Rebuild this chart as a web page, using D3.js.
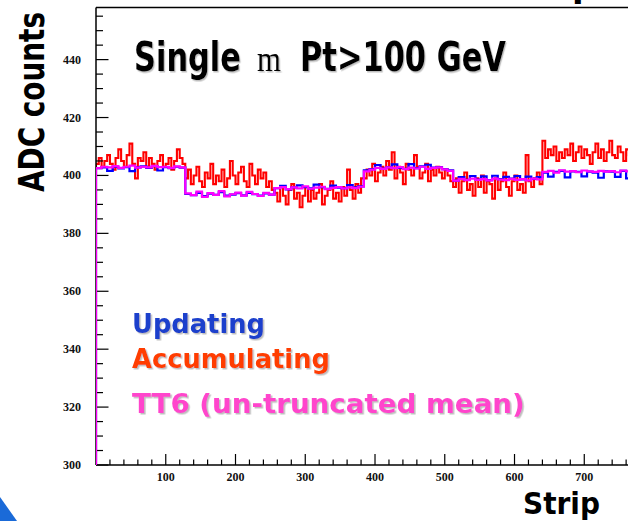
<!DOCTYPE html>
<html lang="en">
<head>
    <meta charset="UTF-8">
    <title>ADC counts vs strip</title>
    <script src="https://d3js.org/d3.v7.min.js"></script>
    <style>
        body {
            margin: 0;
            background: #fff;
        }
        svg text.tick {
            font-family: "Liberation Serif", serif;
            font-weight: bold;
            font-size: 12px;
            fill: #111;
        }
        svg text.big {
            font-family: "DejaVu Sans", sans-serif;
            font-weight: bold;
        }
    </style>
</head>
<body>
    <div id="chart"></div>

    <script>
        // strips 0..767, read in chunks of 128 (one chip each)
        const stripRange = [0, 768];
        const adcRange = [300, 458];
        const xTickValues = [100, 200, 300, 400, 500, 600, 700];
        const yTickValues = [300, 320, 340, 360, 380, 400, 420, 440];

        // Accumulating pedestals, one value per 4 strips
        const accumulating = [
            404,406,403,405,407,404,402,406,409,405,403,407,411,404,399,406,405,408,403,406,404,402,405,407,403,404,406,402,405,409,406,404,
            399,402,397,400,403,398,396,401,399,404,397,400,398,402,396,399,405,400,397,401,403,398,396,404,400,397,402,399,401,396,398,395,
            394,391,396,393,390,395,397,392,394,389,393,396,391,395,392,394,397,390,393,395,398,392,394,391,396,393,402,395,392,397,394,399,
            399,402,400,404,398,401,403,400,405,402,408,399,403,401,397,404,402,400,407,403,399,401,404,398,402,400,403,401,399,402,400,398,
            396,399,394,398,401,395,397,393,399,396,400,394,398,397,392,399,395,398,401,396,393,398,400,395,397,394,407,398,396,399,401,397,
            412,406,409,407,410,405,408,406,409,407,411,405,408,410,406,409,407,404,408,411,406,409,405,408,412,407,406,410,408,405,409,407
        ];

        // Updating pedestals, one value per 8 strips
        const updating = [
            402.5,402.8,401.6,403.0,402.4,402.9,401.5,402.8,403.1,402.6,403.2,401.7,402.9,402.5,403.0,402.7,
            393.6,393.2,394.0,392.9,393.7,393.3,394.2,393.0,393.4,393.9,393.1,394.0,393.5,393.0,393.8,393.4,
            395.6,396.4,395.2,395.9,396.6,396.0,395.5,396.8,396.0,395.4,396.5,395.8,395.6,396.7,395.9,396.2,
            401.8,402.2,403.6,402.4,402.9,403.8,402.6,402.3,403.9,402.5,403.1,403.7,402.7,402.9,402.2,401.8,
            398.2,399.4,398.5,399.8,398.6,399.7,398.4,399.9,398.7,399.5,398.9,399.8,398.6,399.6,398.8,399.4,
            401.0,399.6,401.2,401.6,399.3,401.4,401.2,399.7,401.3,401.0,399.2,401.4,401.3,399.5,401.6,399.0
        ];

        // TT6 un-truncated mean, one value per 8 strips
        const tt6 = [
            402.5,403.0,402.8,403.2,402.6,403.0,403.4,402.7,403.0,402.8,403.3,402.9,403.0,402.6,403.1,402.8,
            393.8,393.2,394.4,392.6,393.9,393.3,394.6,392.8,393.5,394.1,393.0,394.3,393.6,392.9,394.0,393.4,
            395.6,396.0,395.3,395.9,395.5,396.2,395.4,395.8,396.1,395.3,395.7,396.0,395.5,395.9,395.6,396.1,
            401.4,402.0,402.6,402.3,402.8,402.5,402.9,402.2,402.7,402.4,403.0,402.3,402.6,402.8,402.1,401.6,
            398.2,398.8,398.4,398.9,398.5,398.7,398.3,398.9,398.6,398.4,398.8,398.5,398.7,398.3,398.9,398.6,
            401.2,401.6,401.0,401.8,401.3,401.5,401.1,401.7,401.4,401.2,401.6,401.3,401.5,401.1,401.7,401.4
        ];

        const config = {
            width: 628,
            height: 521,
            left: 96,
            right: 631.7,
            top: 7.5,
            bottom: 465
        };

        const svg = d3.select('#chart')
            .append('svg')
            .attr('width', config.width)
            .attr('height', config.height);

        const defs = svg.append('defs');
        defs.append('clipPath').attr('id', 'plot')
            .append('rect')
            .attr('x', config.left)
            .attr('y', config.top)
            .attr('width', config.right - config.left)
            .attr('height', config.bottom - config.top);
        defs.append('filter').attr('id', 'shadow')
            .attr('x', '-5%').attr('y', '-20%').attr('width', '110%').attr('height', '140%')
            .append('feDropShadow')
            .attr('dx', 1.5).attr('dy', 1.5).attr('stdDeviation', 0.7)
            .attr('flood-color', '#888').attr('flood-opacity', 0.55);

        const x = d3.scaleLinear().domain(stripRange).range([config.left, config.right]);
        const y = d3.scaleLinear().domain(adcRange).range([config.bottom, config.top]);

        // squeeze a text sideways so it is exactly `width` wide (the slide font was narrow)
        function squeeze(sel, tx, ty, width, rotate) {
            const natural = sel.node().getComputedTextLength();
            const sx = width / natural;
            sel.attr('transform', `translate(${tx},${ty})` + (rotate ? ` rotate(${rotate})` : '') + ` scale(${sx},1)`);
        }

        // histogram outline, starting from the bottom of the frame like ROOT does
        function histPath(values) {
            const w = (stripRange[1] - stripRange[0]) / values.length;
            const pts = [[stripRange[0], adcRange[0]]];
            values.forEach((v, i) => pts.push([stripRange[0] + i * w, v]));
            pts.push([stripRange[1], values[values.length - 1]]);
            return d3.line()
                .x(d => x(d[0]))
                .y(d => y(d[1]))
                .curve(d3.curveStepAfter)(pts);
        }

        const plot = svg.append('g').attr('clip-path', 'url(#plot)');

        plot.append('path')
            .attr('d', histPath(accumulating))
            .attr('fill', 'none')
            .attr('stroke', '#ff0000')
            .attr('stroke-width', 2.1);

        plot.append('path')
            .attr('d', histPath(updating))
            .attr('fill', 'none')
            .attr('stroke', '#0000ff')
            .attr('stroke-width', 2.2);

        // frame: top edge
        svg.append('line')
            .attr('x1', config.left).attr('x2', config.width)
            .attr('y1', config.top).attr('y2', config.top)
            .attr('stroke', '#000').attr('stroke-width', 1.5);

        // x axis, ticks pointing up into the frame
        const xMinor = d3.range(20, 768, 20);
        const xAxis = svg.append('g');
        xAxis.append('line')
            .attr('x1', config.left).attr('x2', config.width)
            .attr('y1', config.bottom).attr('y2', config.bottom)
            .attr('stroke', '#000').attr('stroke-width', 1.5);
        xAxis.selectAll('.xt')
            .data(xMinor)
            .join('line')
            .attr('x1', d => x(d)).attr('x2', d => x(d))
            .attr('y1', config.bottom)
            .attr('y2', d => config.bottom - (d % 100 === 0 ? 11 : 5.5))
            .attr('stroke', '#000').attr('stroke-width', 1.2);
        xAxis.selectAll('text')
            .data(xTickValues)
            .join('text')
            .attr('class', 'tick')
            .attr('x', d => x(d))
            .attr('y', config.bottom + 16)
            .attr('text-anchor', 'middle')
            .text(d => d);

        // y axis, ticks pointing right into the frame
        const yMinor = d3.range(300, 458, 5);
        const yAxis = svg.append('g');
        yAxis.append('line')
            .attr('x1', config.left).attr('x2', config.left)
            .attr('y1', config.top).attr('y2', config.bottom)
            .attr('stroke', '#000').attr('stroke-width', 1.5);
        yAxis.selectAll('.yt')
            .data(yMinor)
            .join('line')
            .attr('x1', config.left)
            .attr('x2', d => config.left + (d % 20 === 0 ? 12.5 : 7))
            .attr('y1', d => y(d)).attr('y2', d => y(d))
            .attr('stroke', '#000').attr('stroke-width', 1.2);
        yAxis.selectAll('text')
            .data(yTickValues)
            .join('text')
            .attr('class', 'tick')
            .attr('x', config.left - 15)
            .attr('y', d => y(d) + 4)
            .attr('text-anchor', 'end')
            .text(d => d);

        // TT6 on top, its left edge runs down the axis
        svg.append('g').attr('clip-path', 'url(#plot)')
            .append('path')
            .attr('d', histPath(tt6))
            .attr('fill', 'none')
            .attr('stroke', '#ff00ff')
            .attr('stroke-width', 2.2);

        // axis titles
        const yTitle = svg.append('text')
            .attr('class', 'big')
            .attr('text-anchor', 'middle')
            .attr('font-size', 36)
            .attr('fill', '#000')
            .text('ADC counts');
        squeeze(yTitle, 44, 102, 180, -90);

        const xTitle = svg.append('text')
            .attr('class', 'big')
            .attr('font-size', 30)
            .attr('fill', '#000')
            .text('Strip');
        squeeze(xTitle, 523, 514, 77);

        // bit of the slide title that hangs into the picture
        svg.append('text')
            .attr('class', 'big')
            .attr('x', 572).attr('y', -3)
            .attr('font-size', 34)
            .attr('fill', '#000')
            .text('p');

        // in-plot title, three pieces (the mu fell back to a serif "m")
        const titleParts = [
            { text: 'Single', x: 134, len: 107, serif: false },
            { text: 'm', x: 257, len: 24, serif: true },
            { text: 'Pt>100 GeV', x: 300, len: 206, serif: false }
        ];
        titleParts.forEach(p => {
            const t = svg.append('text')
                .attr('class', p.serif ? null : 'big')
                .attr('font-size', p.serif ? 36 : 40)
                .attr('font-family', p.serif ? '"Liberation Serif", serif' : null)
                .attr('fill', '#000')
                .attr('filter', 'url(#shadow)')
                .text(p.text);
            squeeze(t, p.x, 71, p.len);
        });

        // legend
        const legend = [
            { label: 'Updating', color: '#1a3fcc', y: 333, len: 133 },
            { label: 'Accumulating', color: '#ff3c00', y: 368, len: 198 },
            { label: 'TT6 (un-truncated mean)', color: '#ff44cc', y: 413, len: 393 }
        ];
        legend.forEach(d => {
            const t = svg.append('text')
                .attr('class', 'big')
                .attr('font-size', 26)
                .attr('fill', d.color)
                .attr('filter', 'url(#shadow)')
                .text(d.label);
            squeeze(t, 132, d.y, d.len);
        });

        // corner of the slide decoration
        svg.append('path')
            .attr('d', 'M0,497 L17,521 L0,521 Z')
            .attr('fill', '#1a6ad8');
    </script>
</body>
</html>
